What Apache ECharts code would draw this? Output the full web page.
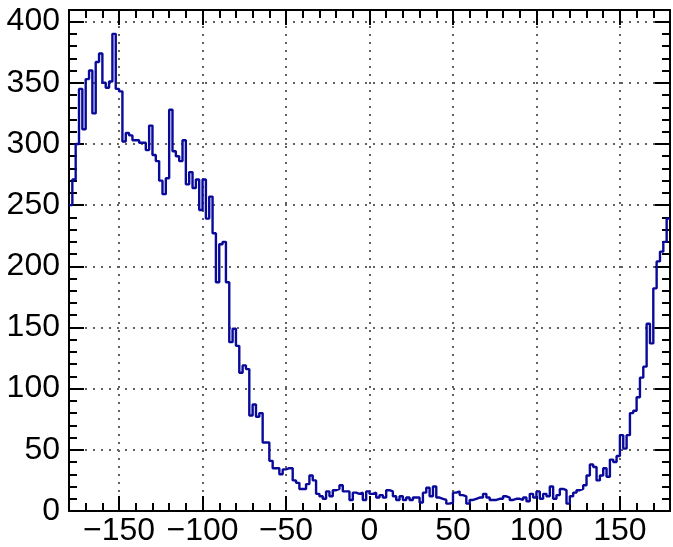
<!DOCTYPE html>
<html><head><meta charset="utf-8">
<script src="https://cdn.jsdelivr.net/npm/echarts@6/dist/echarts.min.js"></script>
<style>html,body{margin:0;padding:0;background:#fff}#c{width:673px;height:547px}</style>
</head><body><div id="c"></div>
<script>
// ---- data ----
const xMin = -180, xMax = 180, binWidth = 2;
const yMin = 0, yMax = 409.5;
const xMajorTicks = [-150, -100, -50, 0, 50, 100, 150];
const xMinorStep = 10;
const yMajorStep = 50;
const yMinorStep = 10;
const counts = [
  250, 271, 300, 345, 312, 353, 360, 325, 367, 374,
  350, 346, 351, 390, 345, 343, 302, 309, 307, 303,
  303, 301, 301, 295, 315, 291, 286, 270, 259, 272,
  328, 294, 290, 286, 303, 267, 277, 264, 271, 246,
  271, 239, 257, 227, 187, 218, 220, 187, 138, 149,
  135, 113, 119, 116, 78, 87, 77, 80, 56, 56,
  41, 35, 35, 30, 34, 35, 35, 25, 23, 18,
  18, 22, 29, 25, 14, 12, 10, 16, 12, 17,
  18, 21, 16, 16, 9, 15, 14, 15, 9, 16,
  14, 15, 11, 13, 11, 17, 16, 12, 9, 12,
  9, 11, 9, 11, 11, 7, 15, 19, 12, 20,
  11, 10, 9, 6, 7, 15, 16, 13, 12, 6,
  9, 10, 11, 11, 14, 11, 9, 9, 10, 10,
  12, 11, 9, 10, 10, 9, 11, 8, 14, 11,
  16, 10, 14, 12, 20, 10, 13, 18, 17, 6,
  12, 15, 17, 18, 21, 29, 38, 36, 25, 29,
  35, 28, 42, 40, 45, 62, 51, 62, 80, 82,
  93, 109, 118, 153, 137, 182, 204, 212, 220, 239
];

// ---- build ----
const stepData = counts.map((v, i) => [xMin + i * binWidth, v]);
stepData.push([xMax, counts[counts.length - 1]]);

const FONT = 'Liberation Sans, Arial, sans-serif';
const black = '#000';
const minus = s => String(s).replace('-', '\u2212');
const gridStyle = {color: '#606060', width: 2, type: [2, 6]};

function xAx(pos, major) {
  const a = {
    type: 'value', min: xMin, max: xMax, position: pos, gridIndex: 0,
    axisLine: {show: major, onZero: false, lineStyle: {color: black, width: 2}},
    axisTick: {show: true, inside: true, length: major ? 15 : 8, lineStyle: {color: black, width: 2}},
    axisLabel: {show: false},
    splitLine: {show: false}
  };
  if (major) {
    a.axisTick.customValues = xMajorTicks;
  } else {
    a.interval = xMinorStep;
  }
  return a;
}
function yAx(pos, major) {
  return {
    type: 'value', min: yMin, max: yMax, position: pos, gridIndex: 0,
    interval: major ? yMajorStep : yMinorStep,
    axisLine: {show: major, onZero: false, lineStyle: {color: black, width: 2}},
    axisTick: {show: true, inside: true, length: major ? 15 : 8, lineStyle: {color: black, width: 2}},
    axisLabel: {show: false},
    splitLine: {show: false}
  };
}

const xAxes = [xAx('bottom', true), xAx('bottom', false), xAx('top', true), xAx('top', false)];
xAxes[0].axisLabel = {
  show: true, customValues: xMajorTicks, formatter: v => minus(v),
  fontSize: 32, color: black, fontFamily: FONT, margin: 4
};
xAxes[0].splitLine = {show: true, lineStyle: gridStyle};

const yAxes = [yAx('left', true), yAx('left', false), yAx('right', true), yAx('right', false)];
yAxes[0].axisLabel = {
  show: true, formatter: v => (v % yMajorStep === 0 ? String(v) : ''),
  fontSize: 32, color: black, fontFamily: FONT, margin: 9
};
yAxes[0].splitLine = {show: true, lineStyle: gridStyle};

const chart = echarts.init(document.getElementById('c'), null, {renderer: 'canvas'});
chart.setOption({
  animation: false,
  backgroundColor: '#fff',
  grid: {left: 69, right: 3, top: 10, bottom: 35, containLabel: false},
  xAxis: xAxes,
  yAxis: yAxes,
  series: [{
    type: 'line', xAxisIndex: 0, yAxisIndex: 0,
    step: 'end', data: stepData, showSymbol: false, symbol: 'none',
    lineStyle: {color: '#0a0a9a', width: 2.4},
    clip: true, z: 3
  }]
});
</script>
</body></html>
